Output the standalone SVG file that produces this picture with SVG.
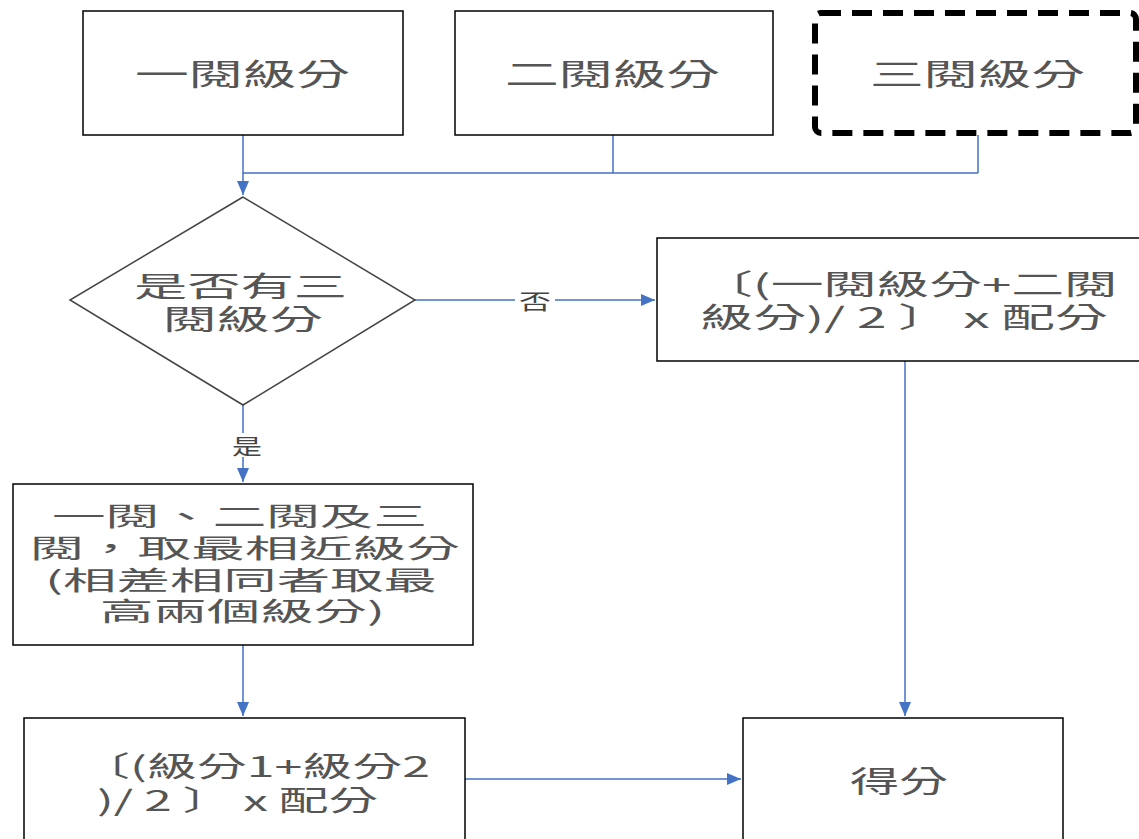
<svg xmlns="http://www.w3.org/2000/svg" width="1139" height="839" viewBox="0 0 1139 839">
<style>
.box{fill:#fff;stroke:#000;stroke-width:1.5}
.t{font-family:"Noto Sans CJK TC","Noto Sans CJK SC",sans-serif;font-size:30px;fill:#555;text-anchor:start}
.m{font-size:28px}
.s{font-size:26px}
.lbl{font-family:"Noto Sans CJK TC",sans-serif;font-size:21px;fill:#444}
.c{fill:none;stroke:#4472C4;stroke-width:1.5}
</style>
<defs>
<marker id="ahb" viewBox="0 0 10 10" refX="10" refY="5" markerWidth="14" markerHeight="12" markerUnits="userSpaceOnUse" orient="auto" preserveAspectRatio="none">
<path d="M0,0 L10,5 L0,10 z" fill="#4472C4"/>
</marker>
</defs>
<rect width="1139" height="839" fill="#fff"/>
<g id="connectors">
<path class="c" d="M243,135 V195" marker-end="url(#ahb)"/>
<path class="c" d="M613,135 V173 M978,135 V173 M243,173 H978"/>
<path class="c" d="M415,300 H655" marker-end="url(#ahb)"/>
<path class="c" d="M243,405 V482" marker-end="url(#ahb)"/>
<path class="c" d="M243,645 V716" marker-end="url(#ahb)"/>
<path class="c" d="M465,779 H741" marker-end="url(#ahb)"/>
<path class="c" d="M905,361 V716" marker-end="url(#ahb)"/>
<rect x="515" y="288" width="40" height="24" fill="#fff"/>
<text class="lbl" x="519" y="309" textLength="32" lengthAdjust="spacingAndGlyphs">否</text>
<rect x="228" y="433" width="34" height="24" fill="#fff"/>
<text class="lbl" x="232" y="454" textLength="30" lengthAdjust="spacingAndGlyphs">是</text>
</g>
<g id="n1">
<rect class="box" x="83" y="11" width="320" height="124"/>
<text class="t" x="135" y="85" textLength="215" lengthAdjust="spacingAndGlyphs">一閱級分</text>
</g>
<g id="n2">
<rect class="box" x="455" y="11" width="318" height="124"/>
<text class="t" x="505" y="85" textLength="215" lengthAdjust="spacingAndGlyphs">二閱級分</text>
</g>
<g id="n3">
<rect x="815" y="13" width="321" height="120" rx="6" fill="#fff" stroke="#000" stroke-width="6" stroke-dasharray="20 11"/>
<text class="t" x="870" y="85" textLength="215" lengthAdjust="spacingAndGlyphs">三閱級分</text>
</g>
<g id="decision">
<path d="M243,197 L70,300 L243,405 L415,300 Z" fill="#fff" stroke="#444" stroke-width="1.5"/>
<text class="t m" x="134" y="297" textLength="213" lengthAdjust="spacingAndGlyphs">是否有三</text>
<text class="t m" x="163" y="330" textLength="160" lengthAdjust="spacingAndGlyphs">閱級分</text>
</g>
<g id="avg2">
<rect class="box" x="657" y="238" width="490" height="123"/>
<text class="t m" x="700" y="295" textLength="417" lengthAdjust="spacingAndGlyphs">〔(一閱級分+二閱</text>
<text class="t m" x="700" y="328" textLength="408" lengthAdjust="spacingAndGlyphs">級分)/ 2 〕 x 配分</text>
</g>
<g id="closest">
<rect class="box" x="13" y="484" width="460" height="161"/>
<text class="t s" x="52" y="526" textLength="375" lengthAdjust="spacingAndGlyphs">一閱、二閱及三</text>
<text class="t s" x="30" y="558" textLength="430" lengthAdjust="spacingAndGlyphs">閱，取最相近級分</text>
<text class="t s" x="45" y="590" textLength="392" lengthAdjust="spacingAndGlyphs">(相差相同者取最</text>
<text class="t s" x="100" y="621" textLength="285" lengthAdjust="spacingAndGlyphs">高兩個級分)</text>
</g>
<g id="avgclose">
<rect class="box" x="24" y="718" width="441" height="130"/>
<text class="t m" x="80" y="777" textLength="350" lengthAdjust="spacingAndGlyphs">〔(級分1+級分2</text>
<text class="t m" x="97" y="811" textLength="281" lengthAdjust="spacingAndGlyphs">)/ 2 〕 x 配分</text>
</g>
<g id="score">
<rect class="box" x="743" y="718" width="320" height="130"/>
<text class="t" x="850" y="792" textLength="98" lengthAdjust="spacingAndGlyphs">得分</text>
</g>
</svg>
